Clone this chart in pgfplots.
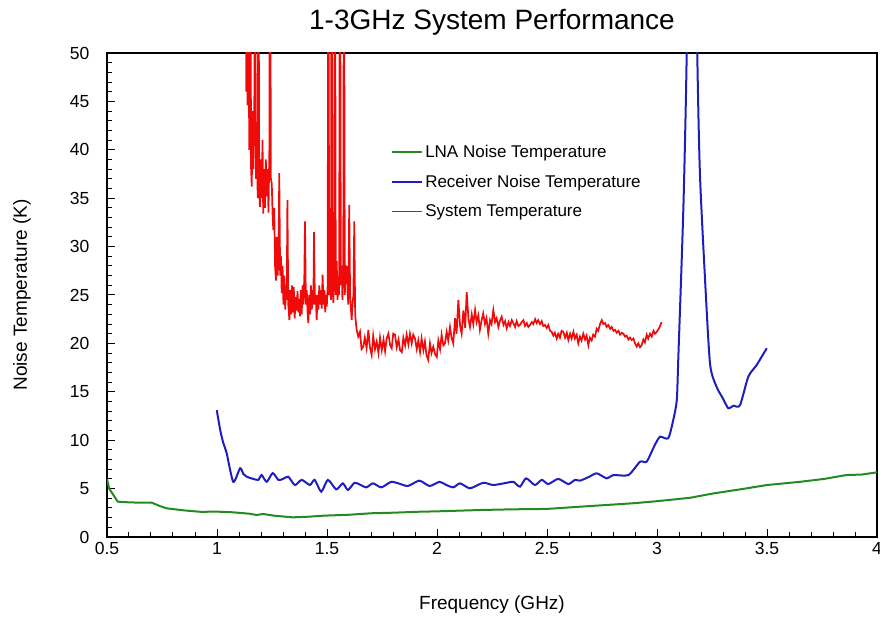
\documentclass[border=0pt]{standalone}
\usepackage{fontspec}
\setmainfont{Liberation Sans}
\usepackage{pgfplots}
\pgfplotsset{compat=1.18}

\definecolor{lnagreen}{RGB}{34,139,34}
\definecolor{rxblue}{RGB}{30,30,190}
\definecolor{sysred}{RGB}{240,10,10}

\begin{document}
\begin{tikzpicture}
\begin{axis}[
  at={(0pt,0pt)}, anchor=south west,
  scale only axis, width=770pt, height=484pt,
  xmin=0.5, xmax=4, ymin=0, ymax=50,
  xtick={0.5,1,1.5,2,2.5,3,3.5,4},
  ytick={0,5,10,15,20,25,30,35,40,45,50},
  minor x tick num=4, minor y tick num=4,
  tick align=inside, tick pos=left,
  major tick length=8pt, minor tick length=5pt,
  axis line style={line width=1.3pt},
  tick style={black, line width=1pt},
  /pgf/number format/assume math mode=true,
  tick label style={font=\fontsize{17.5}{21}\selectfont},
  yticklabel style={xshift=-14pt},
  xticklabel style={yshift=-2pt},
  title={1-3GHz System Performance},
  title style={font=\fontsize{28}{32}\selectfont, at={(axis description cs:0.5,1.036)}, anchor=base},
  xlabel={Frequency (GHz)},
  ylabel={Noise Temperature (K)},
  label style={font=\fontsize{19}{23}\selectfont},
  xlabel style={at={(axis description cs:0.5,-0.1405)}, anchor=center},
  ylabel style={at={(axis description cs:-0.1104,0.5)}, anchor=center},
  legend style={draw=none, fill=none, at={(axis description cs:0.365,0.818)}, anchor=north west,
    font=\fontsize{17}{20}\selectfont, row sep=12pt, cells={anchor=west}},
  legend image code/.code={\draw[#1] (0pt,0pt) -- (30pt,0pt);},
]
% LNA noise temperature
\addplot[lnagreen, line width=2pt] coordinates {
(0.500,6.0) (0.510,5.0) (0.549,3.65) (0.580,3.6) (0.640,3.55) (0.703,3.55)
(0.740,3.2) (0.771,2.96) (0.850,2.75) (0.925,2.6) (1.000,2.62) (1.073,2.55)
(1.150,2.4) (1.180,2.27) (1.209,2.38) (1.260,2.2) (1.345,2.03) (1.420,2.1)
(1.482,2.2) (1.600,2.3) (1.700,2.45) (1.786,2.5) (1.850,2.55) (1.900,2.6)
(2.000,2.65) (2.100,2.72) (2.200,2.79) (2.347,2.86) (2.500,2.9) (2.650,3.13)
(2.800,3.35) (2.900,3.5) (3.000,3.7) (3.150,4.05) (3.256,4.5) (3.400,5.0)
(3.500,5.37) (3.650,5.7) (3.760,6.0) (3.860,6.4) (3.930,6.45) (4.000,6.68)
};
\addlegendentry{LNA Noise Temperature}
% receiver noise temperature
\addplot[rxblue, line width=2pt, smooth, tension=0.4] coordinates {
(0.999,13.1) (1.015,11.0) (1.029,9.68) (1.044,8.65) (1.074,5.7) (1.105,7.1)
(1.120,6.5) (1.135,6.23) (1.165,6.0) (1.188,5.9) (1.203,6.4) (1.226,5.7)
(1.253,6.6) (1.279,5.9) (1.300,6.0) (1.324,6.23) (1.354,5.37) (1.385,5.9)
(1.422,5.37) (1.444,5.9) (1.474,4.68) (1.504,5.9) (1.542,4.92) (1.572,5.54)
(1.595,4.86) (1.625,5.6) (1.650,5.4) (1.679,5.13) (1.709,5.54) (1.747,5.13)
(1.792,5.7) (1.830,5.5) (1.868,5.27) (1.920,5.82) (1.966,5.27) (2.011,5.7)
(2.040,5.4) (2.074,5.13) (2.105,5.54) (2.150,5.03) (2.210,5.6) (2.256,5.37)
(2.317,5.6) (2.347,5.7) (2.377,5.2) (2.405,6.06) (2.445,5.37) (2.476,5.9)
(2.506,5.47) (2.551,6.0) (2.597,5.47) (2.627,5.9) (2.650,5.82) (2.690,6.2)
(2.726,6.58) (2.771,6.06) (2.801,6.4) (2.870,6.4) (2.923,7.78) (2.953,7.78)
(2.990,9.5) (3.014,10.36) (3.051,10.2) (3.074,12.1) (3.090,14.15) (3.097,18.6)
(3.120,34.1) (3.135,50.0) (3.150,80) (3.165,80) (3.183,50.0) (3.195,37.6)
(3.217,27.2) (3.241,17.9) (3.271,15.5) (3.300,14.3) (3.324,13.3) (3.347,13.56)
(3.377,13.6) (3.415,16.56) (3.453,17.77) (3.499,19.5)
};
\addlegendentry{Receiver Noise Temperature}
% system temperature
\addplot[sysred, line width=1.7pt] coordinates {
(1.130,70) (1.133,46) (1.136,70) (1.139,44.6) (1.143,52) (1.147,40)
(1.151,70) (1.155,38) (1.158,36.2) (1.162,44) (1.166,38) (1.170,46)
(1.173,70) (1.177,37) (1.181,42) (1.185,35) (1.188,70) (1.192,36)
(1.195,34.1) (1.199,39) (1.203,35) (1.207,41) (1.210,33.4) (1.214,38)
(1.218,34) (1.222,39) (1.226,35.2) (1.230,38) (1.234,33.5) (1.238,40)
(1.241,70) (1.245,37) (1.249,36.5) (1.253,33) (1.256,31.7) (1.260,34)
(1.264,28) (1.268,26.5) (1.272,31) (1.276,27) (1.280,30) (1.283,37.6)
(1.287,27) (1.291,29) (1.294,25.2) (1.298,28) (1.302,24) (1.306,27)
(1.310,23.5) (1.314,26) (1.317,24.5) (1.320,34.8) (1.324,24) (1.329,22.4)
(1.333,25.5) (1.337,23) (1.341,26) (1.345,23.2) (1.349,25.8) (1.353,22.6)
(1.358,24.8) (1.362,23.4) (1.366,25.4) (1.370,23.2) (1.374,24.6) (1.377,22.8)
(1.381,25.5) (1.385,23) (1.389,26) (1.393,24) (1.397,27) (1.400,32.6)
(1.404,24) (1.408,25.5) (1.412,23) (1.415,22.1) (1.419,25) (1.423,23)
(1.427,26) (1.431,23.5) (1.435,25.5) (1.438,24) (1.441,31.5) (1.445,24)
(1.449,25) (1.453,22.4) (1.457,25) (1.461,23.5) (1.465,26) (1.469,24)
(1.473,25.5) (1.476,23.6) (1.480,27.1) (1.484,24) (1.488,25.5) (1.492,23.2)
(1.496,25) (1.499,23.8) (1.503,26) (1.506,70) (1.510,25) (1.514,27)
(1.518,24.5) (1.521,70) (1.525,26) (1.529,24.2) (1.533,28) (1.536,70)
(1.540,25) (1.544,28.5) (1.548,24.5) (1.551,27) (1.555,25) (1.559,70)
(1.563,26) (1.567,28) (1.570,24.5) (1.574,29) (1.577,70) (1.581,25)
(1.585,28) (1.590,27.9) (1.594,25) (1.597,24) (1.601,34.3) (1.605,25)
(1.609,23.5) (1.612,22.4) (1.616,24) (1.620,25) (1.624,32.6) (1.628,23)
(1.632,22) (1.635,21.4) (1.642,20.7) (1.650,21.2) (1.657,19.4) (1.665,19.66)
(1.672,20.6) (1.680,19.5) (1.688,21.4) (1.695,19.6) (1.703,18.8) (1.710,20.8)
(1.718,19.4) (1.726,20.2) (1.734,19.0) (1.741,20.6) (1.749,19.3) (1.757,20.4)
(1.764,19.2) (1.771,20.5) (1.779,21.0) (1.787,19.8) (1.794,19.5) (1.801,21.0)
(1.809,20.9) (1.817,19.6) (1.825,20.4) (1.832,19.3) (1.840,19.1) (1.847,20.6)
(1.855,19.8) (1.862,20.9) (1.870,19.9) (1.877,21.0) (1.885,20.0) (1.892,20.9)
(1.900,20.5) (1.908,19.4) (1.915,20.3) (1.923,19.1) (1.930,20.5) (1.938,19.3)
(1.945,20.2) (1.952,18.8) (1.960,18.3) (1.968,20.0) (1.975,19.0) (1.983,19.66)
(1.991,18.9) (1.999,18.6) (2.006,20.3) (2.014,19.4) (2.021,20.9) (2.029,19.8)
(2.036,20.0) (2.044,21.2) (2.051,20.3) (2.059,21.7) (2.066,20.6) (2.074,20.0)
(2.082,22.6) (2.089,21.0) (2.097,24.5) (2.105,21.8) (2.112,21.0) (2.120,23.4)
(2.128,21.6) (2.135,25.3) (2.143,22.5) (2.150,21.7) (2.158,23.0) (2.165,22.0)
(2.173,23.45) (2.180,22.2) (2.188,22.9) (2.195,21.4) (2.203,22.4) (2.210,23.1)
(2.218,22.0) (2.225,22.6) (2.233,21.0) (2.241,22.4) (2.248,22.0) (2.256,23.45)
(2.264,22.2) (2.271,22.6) (2.279,21.7) (2.287,22.4) (2.294,22.76) (2.302,21.9)
(2.310,22.3) (2.317,21.56) (2.325,22.2) (2.332,21.8) (2.340,22.4) (2.347,22.1)
(2.355,21.7) (2.362,22.3) (2.370,21.8) (2.377,21.9) (2.385,22.2) (2.393,22.4)
(2.400,21.8) (2.408,22.1) (2.415,21.7) (2.423,21.9) (2.431,22.2) (2.438,22.0)
(2.446,22.5) (2.453,22.1) (2.460,22.4) (2.468,22.0) (2.476,22.3) (2.483,21.8)
(2.491,21.9) (2.498,21.6) (2.506,21.9) (2.514,21.3) (2.521,21.2) (2.529,20.8)
(2.536,21.1) (2.544,20.5) (2.551,21.0) (2.559,20.6) (2.566,21.3) (2.574,21.2)
(2.582,20.6) (2.590,21.1) (2.597,20.35) (2.605,21.0) (2.612,20.5) (2.620,21.2)
(2.627,20.5) (2.635,20.9) (2.642,20.0) (2.650,20.7) (2.657,20.3) (2.665,21.0)
(2.673,20.4) (2.680,20.8) (2.688,19.8) (2.695,20.6) (2.703,20.3) (2.710,20.9)
(2.718,20.7) (2.726,21.5) (2.733,21.3) (2.741,22.0) (2.749,22.4) (2.756,22.0)
(2.764,22.1) (2.771,21.7) (2.779,21.9) (2.787,21.5) (2.794,21.7) (2.802,21.3)
(2.809,21.4) (2.817,21.1) (2.825,21.3) (2.832,20.9) (2.840,21.1) (2.847,21.0)
(2.855,20.7) (2.862,20.8) (2.870,20.4) (2.877,20.6) (2.885,20.35) (2.893,20.5)
(2.900,20.0) (2.908,19.66) (2.915,20.0) (2.923,19.6) (2.930,19.8) (2.938,20.4)
(2.945,20.1) (2.953,20.9) (2.960,20.5) (2.968,21.0) (2.976,20.7) (2.984,21.3)
(2.991,21.0) (2.999,21.2) (3.010,21.6) (3.021,22.2)
};
\addlegendentry{System Temperature}
\end{axis}
\pgfresetboundingbox
\useasboundingbox (-107pt,-80pt) rectangle (773pt,537pt);
\end{tikzpicture}
\end{document}
